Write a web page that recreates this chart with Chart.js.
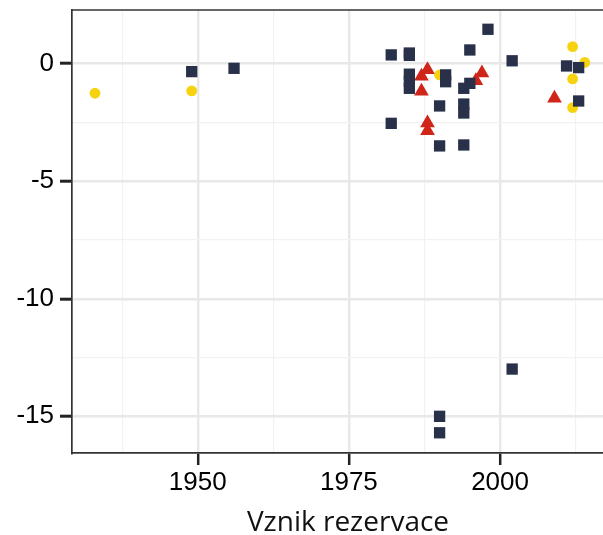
<!DOCTYPE html>
<html>
<head>
<meta charset="utf-8">
<script src="https://cdn.jsdelivr.net/npm/chart.js@4/dist/chart.umd.min.js"></script>
<style>
  html, body { margin: 0; padding: 0; background: #fff; overflow: hidden; }
  #wrap { width: 603px; height: 535px; overflow: hidden; }
</style>
</head>
<body>
<div id="wrap"><canvas id="c" width="624" height="535"></canvas></div>
<script>
// Navy squares
const squareYears  = [1949, 1956, 1982, 1985, 1985, 1985, 1985, 1985, 1995, 2002, 1991, 1991, 1994, 1995, 1990, 1994, 1994, 1982, 1990, 1994, 1998, 2011, 2013, 2013, 2002, 1990, 1990];
const squareValues = [-0.34, -0.2, 0.37, 0.45, 0.35, -0.45, -0.75, -1.05, 0.58, 0.12, -0.48, -0.77, -1.05, -0.84, -1.8, -1.72, -2.1, -2.54, -3.5, -3.46, 1.46, -0.1, -0.17, -1.59, -12.99, -15.0, -15.7];
// Red triangles
const triangleYears  = [1988, 1987, 1987, 1997, 1996, 1988, 1988, 2009];
const triangleValues = [-0.26, -0.54, -1.18, -0.4, -0.73, -2.53, -2.85, -1.47];
// Yellow circles
const circleYears  = [1933, 1949, 1990, 2012, 2014, 2012, 2012];
const circleValues = [-1.26, -1.16, -0.48, 0.72, 0.05, -0.65, -1.87];

const xMajorTicks = [1950, 1975, 2000];
const xMinorTicks = [1937.5, 1962.5, 1987.5, 2012.5];
const yMajorTicks = [0, -5, -10, -15];
const yMinorTicks = [-2.5, -7.5, -12.5];
const xTitle = 'Vznik rezervace';

function pts(xs, ys) { return xs.map((x, i) => ({ x: x, y: ys[i] })); }

const topLine = {
  id: 'topLine',
  afterDraw(chart) {
    const a = chart.chartArea, ctx = chart.ctx;
    ctx.save();
    ctx.strokeStyle = '#333333';
    ctx.lineWidth = 1.7;
    ctx.beginPath();
    ctx.moveTo(a.left, a.top);
    ctx.lineTo(a.right, a.top);
    ctx.stroke();
    ctx.restore();
  }
};

function isMajor(list, v) { return list.some(t => Math.abs(t - v) < 1e-6); }

new Chart(document.getElementById('c'), {
  type: 'scatter',
  data: {
    datasets: [
      { label: 'squares', data: pts(squareYears, squareValues), pointStyle: 'rect', pointRadius: 8, pointHoverRadius: 8,
        backgroundColor: '#283149', borderWidth: 0 },
      { label: 'triangles', data: pts(triangleYears, triangleValues), pointStyle: 'triangle', pointRadius: 8.5, pointHoverRadius: 8.5,
        backgroundColor: '#d0261a', borderWidth: 0 },
      { label: 'circles', data: pts(circleYears, circleValues), pointStyle: 'circle', pointRadius: 5.4, pointHoverRadius: 5.4,
        backgroundColor: '#f6d20f', borderWidth: 0 }
    ]
  },
  options: {
    responsive: false,
    animation: false,
    layout: { autoPadding: false, padding: { top: 10, right: 0, left: 0, bottom: 0 } },
    plugins: { legend: { display: false }, tooltip: { enabled: false } },
    scales: {
      x: {
        type: 'linear',
        min: 1929.2,
        max: 2020.5,
        afterBuildTicks(scale) {
          scale.ticks = xMinorTicks.concat(xMajorTicks).sort((a, b) => a - b).map(v => ({ value: v }));
        },
        afterFit(scale) { scale.height = 82; scale.paddingLeft = 0; scale.paddingRight = 0; },
        ticks: {
          autoSkip: false,
          maxRotation: 0,
          padding: 2,
          color: '#000',
          font: { family: 'Liberation Sans', size: 26 },
          callback: (v) => isMajor(xMajorTicks, v) ? String(v) : ''
        },
        grid: {
          color: (c) => isMajor(xMajorTicks, c.tick.value) ? '#e8e8e8' : '#f2f2f2',
          lineWidth: (c) => isMajor(xMajorTicks, c.tick.value) ? 2.4 : 1.2,
          tickColor: (c) => isMajor(xMajorTicks, c.tick.value) ? '#222' : 'rgba(0,0,0,0)',
          tickLength: 12,
          tickWidth: 2.5
        },
        border: { display: true, color: '#333333', width: 1.7 },
        title: {
          display: true,
          text: xTitle,
          color: '#111',
          font: { family: 'Open Sans', size: 28 },
          padding: { top: 0, bottom: -5 }
        }
      },
      y: {
        type: 'linear',
        min: -16.56,
        max: 2.28,
        afterBuildTicks(scale) {
          scale.ticks = yMinorTicks.concat(yMajorTicks).sort((a, b) => a - b).map(v => ({ value: v }));
        },
        afterFit(scale) { scale.width = 72; scale.paddingTop = 0; scale.paddingBottom = 0; },
        ticks: {
          autoSkip: false,
          padding: 6,
          color: '#000',
          font: { family: 'Liberation Sans', size: 26 },
          callback: (v) => isMajor(yMajorTicks, v) ? String(v) : ''
        },
        grid: {
          color: (c) => isMajor(yMajorTicks, c.tick.value) ? '#e8e8e8' : '#f2f2f2',
          lineWidth: (c) => isMajor(yMajorTicks, c.tick.value) ? 2.4 : 1.2,
          tickColor: (c) => isMajor(yMajorTicks, c.tick.value) ? '#222' : 'rgba(0,0,0,0)',
          tickLength: 12,
          tickWidth: 3
        },
        border: { display: true, color: '#333333', width: 1.7 }
      }
    }
  },
  plugins: [topLine]
});
</script>
</body>
</html>
